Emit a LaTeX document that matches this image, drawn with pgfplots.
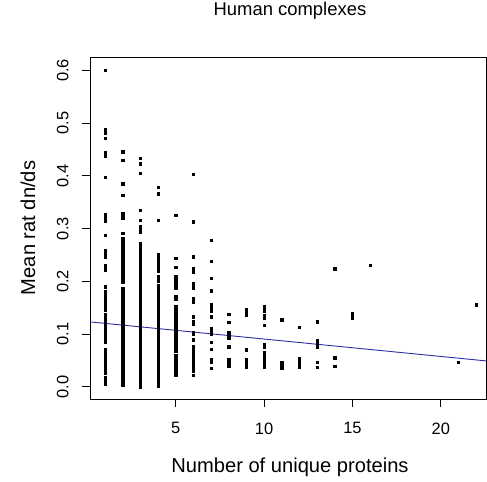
\documentclass[border=0pt]{standalone}
\usepackage{fontspec}
\setmainfont{Liberation Sans}
\usepackage{pgfplots}
\pgfplotsset{compat=1.18}
\definecolor{regblue}{RGB}{45,45,165}
\begin{document}
\begin{tikzpicture}
\path[use as bounding box] (-90bp,-83bp) rectangle (397bp,399bp);
\begin{axis}[
  at={(0,0)}, anchor=south west,
  scale only axis, width=396bp, height=342bp,
  xmin=0.15, xmax=22.56, ymin=-0.0233, ymax=0.6256,
  axis line style={line width=0.8bp},
  tick pos=left, tick align=outside,
  major tick length=8bp,
  every tick/.style={black, line width=0.8bp},
  xtick={5,10,15,20}, ytick={0,0.1,0.2,0.3,0.4,0.5,0.6},
  /pgf/number format/assume math mode=true,
  ticklabel style={font=\fontsize{16.5}{19}\selectfont},
  xticklabel style={anchor=north},
  xticklabel shift=12bp,
  yticklabel shift=10bp,
  yticklabel style={rotate=90, anchor=south, /pgf/number format/.cd, fixed, fixed zerofill, precision=1},
  title={Human complexes},
  title style={at={(axis description cs:0.505,1.117)}, anchor=center, font=\fontsize{18.5}{22}\selectfont},
  xlabel={Number of unique proteins},
  xlabel style={at={(axis description cs:0.505,-0.1988)}, anchor=center, font=\fontsize{20.2}{24}\selectfont},
  ylabel={Mean rat dn/ds},
  ylabel style={at={(axis description cs:-0.157,0.5)}, anchor=center, font=\fontsize{20.2}{24}\selectfont},
  clip=true,
  pt/.style={only marks, mark=square*, mark size=1.2bp, black, mark options={fill=black, draw=none}},
]
% x = 1
\addplot[pt] coordinates {(1,0.601) (1,0.489) (1,0.482) (1,0.472) (1,0.445) (1,0.441) (1,0.437) (1,0.397) (1,0.327) (1,0.323) (1,0.319) (1,0.315) (1,0.288) (1,0.259) (1,0.255) (1,0.250) (1,0.246) (1,0.231) (1,0.226) (1,0.222) (1,0.190) (1,0.180) (1,0.176) (1,0.171) (1,0.165) (1,0.161) (1,0.157) (1,0.153) (1,0.149) (1,0.145) (1,0.137) (1,0.133) (1,0.129) (1,0.123) (1,0.119) (1,0.115) (1,0.111) (1,0.107) (1,0.103) (1,0.099) (1,0.092) (1,0.088) (1,0.084) (1,0.071) (1,0.067) (1,0.063) (1,0.059) (1,0.053) (1,0.049) (1,0.045) (1,0.041) (1,0.035) (1,0.031) (1,0.026) (1,0.018) (1,0.012) (1,0.006)};
% x = 2
\addplot[pt] coordinates {(2,0.446) (2,0.430) (2,0.385) (2,0.363) (2,0.329) (2,0.324) (2,0.320) (2,0.291) (2,0.282) (2,0.278) (2,0.274) (2,0.270) (2,0.266) (2,0.262) (2,0.258) (2,0.254) (2,0.250) (2,0.246) (2,0.242) (2,0.238) (2,0.234) (2,0.230) (2,0.226) (2,0.222) (2,0.218) (2,0.214) (2,0.210) (2,0.206) (2,0.202) (2,0.198) (2,0.187) (2,0.183) (2,0.179) (2,0.175) (2,0.171) (2,0.167) (2,0.163) (2,0.159) (2,0.155) (2,0.151) (2,0.147) (2,0.143) (2,0.139) (2,0.135) (2,0.131) (2,0.127) (2,0.123) (2,0.119) (2,0.115) (2,0.111) (2,0.107) (2,0.103) (2,0.099) (2,0.095) (2,0.091) (2,0.087) (2,0.083) (2,0.079) (2,0.075) (2,0.071) (2,0.067) (2,0.063) (2,0.059) (2,0.055) (2,0.051) (2,0.047) (2,0.043) (2,0.039) (2,0.035) (2,0.031) (2,0.027) (2,0.023) (2,0.019) (2,0.015) (2,0.011) (2,0.007) (2,0.003)};
% x = 3
\addplot[pt] coordinates {(3,0.434) (3,0.423) (3,0.405) (3,0.335) (3,0.316) (3,0.305) (3,0.298) (3,0.294) (3,0.272) (3,0.268) (3,0.264) (3,0.260) (3,0.256) (3,0.252) (3,0.248) (3,0.244) (3,0.240) (3,0.236) (3,0.232) (3,0.228) (3,0.220) (3,0.216) (3,0.212) (3,0.208) (3,0.204) (3,0.200) (3,0.196) (3,0.192) (3,0.188) (3,0.184) (3,0.180) (3,0.176) (3,0.172) (3,0.168) (3,0.164) (3,0.160) (3,0.156) (3,0.152) (3,0.148) (3,0.144) (3,0.140) (3,0.136) (3,0.132) (3,0.128) (3,0.124) (3,0.120) (3,0.116) (3,0.112) (3,0.108) (3,0.104) (3,0.100) (3,0.096) (3,0.092) (3,0.088) (3,0.084) (3,0.080) (3,0.076) (3,0.072) (3,0.068) (3,0.064) (3,0.060) (3,0.056) (3,0.052) (3,0.048) (3,0.044) (3,0.040) (3,0.036) (3,0.032) (3,0.028) (3,0.024) (3,0.020) (3,0.016) (3,0.012) (3,0.008) (3,0.004) (3,0.000)};
% x = 4
\addplot[pt] coordinates {(4,0.378) (4,0.366) (4,0.316) (4,0.251) (4,0.247) (4,0.243) (4,0.237) (4,0.232) (4,0.228) (4,0.224) (4,0.219) (4,0.209) (4,0.205) (4,0.200) (4,0.193) (4,0.188) (4,0.184) (4,0.177) (4,0.173) (4,0.169) (4,0.165) (4,0.161) (4,0.157) (4,0.153) (4,0.149) (4,0.145) (4,0.141) (4,0.137) (4,0.133) (4,0.129) (4,0.125) (4,0.121) (4,0.117) (4,0.113) (4,0.109) (4,0.105) (4,0.101) (4,0.097) (4,0.093) (4,0.089) (4,0.085) (4,0.081) (4,0.077) (4,0.073) (4,0.069) (4,0.065) (4,0.061) (4,0.057) (4,0.053) (4,0.049) (4,0.045) (4,0.041) (4,0.037) (4,0.033) (4,0.029) (4,0.025) (4,0.021) (4,0.017) (4,0.013) (4,0.009) (4,0.005) (4,0.001)};
% x = 5
\addplot[pt] coordinates {(5,0.326) (5,0.244) (5,0.227) (5,0.209) (5,0.205) (5,0.200) (5,0.196) (5,0.191) (5,0.187) (5,0.171) (5,0.167) (5,0.152) (5,0.148) (5,0.144) (5,0.140) (5,0.136) (5,0.132) (5,0.127) (5,0.123) (5,0.119) (5,0.115) (5,0.111) (5,0.107) (5,0.103) (5,0.099) (5,0.095) (5,0.091) (5,0.087) (5,0.083) (5,0.079) (5,0.075) (5,0.071) (5,0.067) (5,0.060) (5,0.056) (5,0.052) (5,0.048) (5,0.044) (5,0.040) (5,0.036) (5,0.032) (5,0.028) (5,0.024) (5,0.022)};
% x = 6
\addplot[pt] coordinates {(6,0.403) (6,0.313) (6,0.247) (6,0.225) (6,0.221) (6,0.217) (6,0.196) (6,0.192) (6,0.187) (6,0.168) (6,0.164) (6,0.160) (6,0.133) (6,0.123) (6,0.119) (6,0.104) (6,0.100) (6,0.089) (6,0.076) (6,0.072) (6,0.068) (6,0.064) (6,0.060) (6,0.056) (6,0.052) (6,0.048) (6,0.044) (6,0.038) (6,0.034) (6,0.030) (6,0.022)};
% x = 7
\addplot[pt] coordinates {(7,0.278) (7,0.238) (7,0.206) (7,0.182) (7,0.157) (7,0.153) (7,0.149) (7,0.144) (7,0.133) (7,0.111) (7,0.107) (7,0.103) (7,0.100) (7,0.085) (7,0.071) (7,0.052) (7,0.048) (7,0.046) (7,0.035)};
% x = 8 .. 22
\addplot[pt] coordinates {(8,0.138) (8,0.122) (8,0.104) (8,0.100) (8,0.096) (8,0.092) (8,0.076) (8,0.052) (8,0.048) (8,0.044) (8,0.039)
 (9,0.147) (9,0.142) (9,0.137) (9,0.070) (9,0.051) (9,0.047) (9,0.043) (9,0.038)
 (10,0.152) (10,0.148) (10,0.144) (10,0.136) (10,0.130) (10,0.117) (10,0.081) (10,0.076) (10,0.066) (10,0.062) (10,0.060) (10,0.056) (10,0.052) (10,0.048) (10,0.044) (10,0.040) (10,0.038)
 (11,0.127) (11,0.047) (11,0.043) (11,0.039) (11,0.035)
 (12,0.113) (12,0.054) (12,0.050) (12,0.046) (12,0.042) (12,0.037)
 (13,0.123) (13,0.087) (13,0.082) (13,0.076) (13,0.047) (13,0.037)
 (14,0.224) (14,0.055) (14,0.039)
 (15,0.140) (15,0.135) (15,0.130)
 (16,0.230)
 (21,0.046)
 (22,0.156)};
% regression line
\addplot[no marks, sharp plot, draw=regblue, line width=0.9bp] coordinates {(0.15,0.1230) (22.56,0.0490)};
\end{axis}
\end{tikzpicture}
\end{document}
